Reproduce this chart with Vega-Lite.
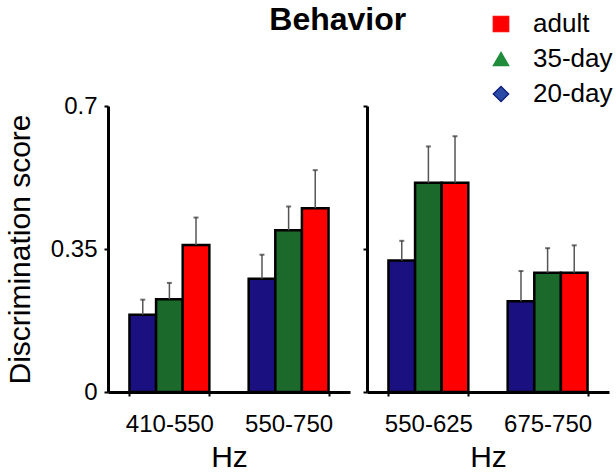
{
  "$schema": "https://vega.github.io/schema/vega-lite/v6.json",
  "padding": {"left": 5, "top": 4, "right": 0, "bottom": 0},
  "background": "white",
  "title": {"text": "Behavior", "fontSize": 32, "fontWeight": "bold", "color": "black", "anchor": "start", "dx": 264, "offset": -26},
  "config": {
    "font": "Liberation Sans",
    "view": {"stroke": null},
    "axis": {"domainColor": "black", "domainWidth": 3, "tickColor": "black", "tickWidth": 2, "tickSize": 4, "grid": false, "labelColor": "black", "titleColor": "black", "titleFontWeight": "normal"},
    "axisX": {"labelFontSize": 24, "labelAngle": 0, "labelPadding": 16, "titleFontSize": 30, "titlePadding": 6, "tickBand": "extent"},
    "axisY": {"labelFontSize": 24, "labelPadding": 7, "titleFontSize": 30, "titlePadding": 15},
    "legend": {"orient": "none", "legendX": 380, "legendY": -95, "labelFontSize": 26, "labelColor": "black", "symbolSize": 240, "labelOffset": 19, "rowPadding": 9, "symbolStrokeWidth": 1.2}
  },
  "data": {"values": [
    {"panel": "A", "freq": "410-550", "age": "20-day", "value": 0.189, "err": 0.226},
    {"panel": "A", "freq": "410-550", "age": "35-day", "value": 0.227, "err": 0.267},
    {"panel": "A", "freq": "410-550", "age": "adult", "value": 0.36, "err": 0.427},
    {"panel": "A", "freq": "550-750", "age": "20-day", "value": 0.277, "err": 0.336},
    {"panel": "A", "freq": "550-750", "age": "35-day", "value": 0.396, "err": 0.454},
    {"panel": "A", "freq": "550-750", "age": "adult", "value": 0.45, "err": 0.543},
    {"panel": "B", "freq": "550-625", "age": "20-day", "value": 0.322, "err": 0.37},
    {"panel": "B", "freq": "550-625", "age": "35-day", "value": 0.512, "err": 0.601},
    {"panel": "B", "freq": "550-625", "age": "adult", "value": 0.512, "err": 0.626},
    {"panel": "B", "freq": "675-750", "age": "20-day", "value": 0.222, "err": 0.296},
    {"panel": "B", "freq": "675-750", "age": "35-day", "value": 0.292, "err": 0.352},
    {"panel": "B", "freq": "675-750", "age": "adult", "value": 0.292, "err": 0.359}
  ]},
  "spacing": 12,
  "hconcat": [
    {
      "width": 242, "height": 286,
      "transform": [{"filter": "datum.panel == 'A'"}],
      "encoding": {
        "x": {"field": "freq", "type": "nominal", "sort": ["410-550", "550-750"], "title": "Hz", "scale": {"paddingInner": 0.33, "paddingOuter": 0.18}},
        "xOffset": {"field": "age", "type": "nominal", "sort": ["20-day", "35-day", "adult"], "scale": {"paddingInner": 0, "paddingOuter": 0}}
      },
      "layer": [
        {"mark": {"type": "point", "filled": true, "opacity": 0, "strokeWidth": 1.2},
         "encoding": {
           "y": {"field": "value", "type": "quantitative"},
           "fill": {"field": "age", "type": "nominal", "scale": {"domain": ["adult", "35-day", "20-day"], "range": ["#ff0000", "#1f8c3b", "#2b4aa5"]}, "legend": {"title": null, "encode": {"symbols": {"update": {"fillOpacity": {"value": 1}, "opacity": {"value": 1}, "fill": {"scale": "fill", "field": "value"}}}}}},
           "stroke": {"field": "age", "type": "nominal", "scale": {"domain": ["adult", "35-day", "20-day"], "range": ["#ff0000", "#1f8c3b", "#0c1a78"]}, "legend": {"title": null}},
           "shape": {"field": "age", "type": "nominal", "scale": {"domain": ["adult", "35-day", "20-day"], "range": ["square", "triangle-up", "diamond"]}, "legend": {"title": null}}
         }},
        {"mark": {"type": "bar", "stroke": "black", "strokeWidth": 2.5},
         "encoding": {
           "y": {"field": "value", "type": "quantitative", "scale": {"domain": [0, 0.7]}, "axis": {"values": [0, 0.35, 0.7], "format": ".2~f", "title": "Discrimination score"}},
           "color": {"field": "age", "type": "nominal", "scale": {"domain": ["adult", "35-day", "20-day"], "range": ["#ff0000", "#1b6a2c", "#1b1080"]}, "legend": null}
         }},
        {"mark": {"type": "rule", "color": "#555555", "strokeWidth": 1.5},
         "encoding": {"y": {"field": "value", "type": "quantitative"}, "y2": {"field": "err"}}},
        {"mark": {"type": "tick", "orient": "horizontal", "color": "#333333", "size": 5, "thickness": 2},
         "encoding": {"y": {"field": "err", "type": "quantitative"}}}
      ]
    },
    {
      "width": 242, "height": 286,
      "transform": [{"filter": "datum.panel == 'B'"}],
      "encoding": {
        "x": {"field": "freq", "type": "nominal", "sort": ["550-625", "675-750"], "title": "Hz", "scale": {"paddingInner": 0.33, "paddingOuter": 0.18}},
        "xOffset": {"field": "age", "type": "nominal", "sort": ["20-day", "35-day", "adult"], "scale": {"paddingInner": 0, "paddingOuter": 0}}
      },
      "layer": [
        {"mark": {"type": "bar", "stroke": "black", "strokeWidth": 2.5},
         "encoding": {
           "y": {"field": "value", "type": "quantitative", "scale": {"domain": [0, 0.7]}, "axis": {"values": [0, 0.35, 0.7], "labels": false, "title": null}},
           "color": {"field": "age", "type": "nominal", "scale": {"domain": ["adult", "35-day", "20-day"], "range": ["#ff0000", "#1b6a2c", "#1b1080"]}, "legend": null}
         }},
        {"mark": {"type": "rule", "color": "#555555", "strokeWidth": 1.5},
         "encoding": {"y": {"field": "value", "type": "quantitative"}, "y2": {"field": "err"}}},
        {"mark": {"type": "tick", "orient": "horizontal", "color": "#333333", "size": 5, "thickness": 2},
         "encoding": {"y": {"field": "err", "type": "quantitative"}}}
      ]
    }
  ]
}
